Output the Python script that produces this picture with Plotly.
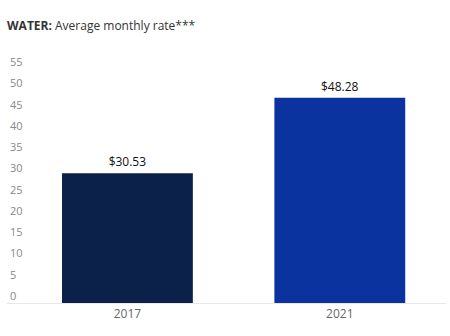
import plotly.graph_objects as go

categories = ["2017", "2021"]
values = [30.53, 48.28]
labels = ["$30.53", "$48.28"]
colors = ["#0B2149", "#0A33A0"]
yticks = list(range(0, 60, 5))

FONT = "Open Sans, Lato, sans-serif"

fig = go.Figure(go.Bar(
    x=categories, y=values, text=labels, textposition="outside",
    marker=dict(color=colors, line=dict(width=0)),
    width=0.616, cliponaxis=False,
    textfont=dict(family=FONT, size=12, color="#111"),
))

fig.update_layout(
    width=450, height=336,
    margin=dict(l=7, r=4, t=48, b=33),
    paper_bgcolor="white", plot_bgcolor="white",
    showlegend=False,
    title=dict(
        text="<b>WATER:</b> Average monthly rate***",
        x=0, xref="paper", xanchor="left", y=1 - 26/336, yanchor="middle",
        font=dict(family=FONT, size=12, color="#333"),
    ),
    xaxis=dict(
        type="category", range=[-0.567, 1.5],
        showline=True, linecolor="#e8e8e8", linewidth=1,
        showgrid=False, ticks="",
        tickfont=dict(family=FONT, size=12, color="#666"),
    ),
    yaxis=dict(
        range=[0, 60], tickvals=yticks, showgrid=False, zeroline=False,
        showline=False, ticks="", ticklabelposition="inside",
        ticklabelshift=-7, ticklabelstandoff=0,
        tickfont=dict(family=FONT, size=11, color="#888"),
    ),
)

fig.write_html("out.html")
